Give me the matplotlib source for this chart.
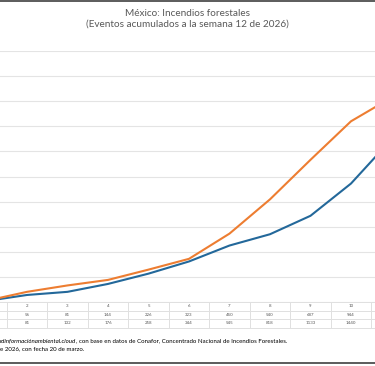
import numpy as np
import matplotlib
matplotlib.use("Agg")
import matplotlib.pyplot as plt
import matplotlib.transforms as mtransforms
from matplotlib.lines import Line2D

semanas = [1, 2, 3, 4, 5, 6, 7, 8, 9, 10, 11]
serie_azul = [8, 56, 81, 144, 226, 323, 450, 540, 687, 944, 1296]
serie_naranja = [10, 81, 132, 176, 258, 344, 545, 818, 1133, 1440, 1629]

titulo = 'México: Incendios forestales\n(Eventos acumulados a la semana 12 de 2026)'
fuente_it = 'rdinformaciónambiental.cloud'
fuente_1 = ', con base en datos de Conafor, Concentrado Nacional de Incendios Forestales.'
fuente_2 = 'e 2026, con fecha 20 de marzo.'

W, H = 375, 366
plt.rcParams['font.family'] = ['Lato', 'DejaVu Sans']
fig = plt.figure(figsize=(W / 100, H / 100), dpi=100)

def fy(ypx):
    return 1 - ypx / H

# axes placed so week 1 sits just off the left edge (cropped chart)
ax = fig.add_axes([0, fy(302), 1, (302 - 51) / H])
x0 = 1 + 13.5 / 40.5
x1 = 1 + (W + 13.5) / 40.5
ax.set_xlim(x0, x1)
ax.set_ylim(0, 2000)
ax.set_yticks(np.arange(0, 2001, 200))
ax.grid(axis='y', color='#E4E4E4', lw=0.8)
ax.set_axisbelow(True)
for s in ax.spines.values():
    s.set_visible(False)
ax.tick_params(left=False, bottom=False, labelleft=False, labelbottom=False)

ax.plot(semanas, serie_azul, color='#23689A', lw=1.5, clip_on=True)
ax.plot(semanas, serie_naranja, color='#ED7D31', lw=1.5, clip_on=True)

fig.text(0.5, fy(19), titulo, ha='center', va='center', fontsize=7.2,
         color='#595959', linespacing=1.25)

# tabla de datos
tr = mtransforms.blended_transform_factory(ax.transData, fig.transFigure)
filas_y = [302, 310.5, 319, 327.7]
for yy in filas_y:
    ax.plot([x0 - 1, x1 + 1], [fy(yy), fy(yy)], transform=tr, color='#E0E0E0',
            lw=0.7, clip_on=False)
for k in semanas + [semanas[-1] + 1]:
    ax.plot([k - 0.5, k - 0.5], [fy(302), fy(327.7)], transform=tr,
            color='#E0E0E0', lw=0.7, clip_on=False)
for k, a, b in zip(semanas, serie_azul, serie_naranja):
    if k < x0 or k > x1:
        continue  # columna fuera del recorte
    ax.text(k, fy(306.2), str(k), transform=tr, ha='center', va='center',
            fontsize=3.2, color='#595959')
    ax.text(k, fy(314.7), str(a), transform=tr, ha='center', va='center',
            fontsize=3.2, color='#595959')
    ax.text(k, fy(323.3), str(b), transform=tr, ha='center', va='center',
            fontsize=3.2, color='#595959')

# nota de fuente
t_it = fig.text(0.0, fy(340.5), fuente_it, ha='left', va='center', fontsize=4.4,
                style='italic', color='black')
fig.canvas.draw()
bb = t_it.get_window_extent()
fig.text(bb.x1 / W, fy(340.5), fuente_1, ha='left', va='center', fontsize=4.4,
         color='black')
fig.text(0.0, fy(348.5), fuente_2, ha='left', va='center', fontsize=4.4,
         color='black')

# bordes del recorte
fig.add_artist(Line2D([0, 1], [fy(0.8), fy(0.8)], color='#404040', lw=1.2))
fig.add_artist(Line2D([0, 1], [fy(363.3), fy(363.3)], color='#404040', lw=1.2))

fig.savefig('out.png', dpi=100)
